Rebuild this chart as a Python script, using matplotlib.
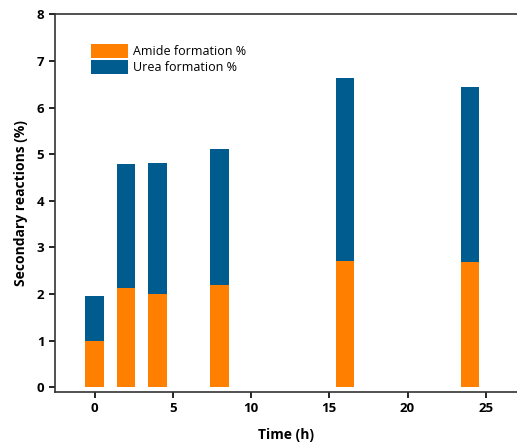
import matplotlib.pyplot as plt

# data
time_h = [0, 2, 4, 8, 16, 24]
amide = [1.0, 2.13, 2.0, 2.19, 2.71, 2.68]
total = [1.95, 4.78, 4.81, 5.12, 6.63, 6.45]
urea = [t - a for t, a in zip(total, amide)]

ORANGE = "#FF8000"
BLUE = "#005B8F"

plt.rcParams["font.family"] = ["Open Sans", "DejaVu Sans"]

fig = plt.figure(figsize=(5.17, 4.45), dpi=100)
ax = fig.add_axes([0.106, 0.119, 0.894, 0.849])

ax.bar(time_h, amide, width=1.2, color=ORANGE, label="Amide formation %")
ax.bar(time_h, urea, width=1.2, bottom=amide, color=BLUE, label="Urea formation %")

ax.set_xlim(-2.55, 27.0)
ax.set_ylim(-0.1, 8)
ax.set_xticks([0, 5, 10, 15, 20, 25])
ax.set_yticks(range(0, 9))
ax.tick_params(direction="out", length=4, width=1.2, labelsize=9.5)
for lab in ax.get_xticklabels() + ax.get_yticklabels():
    lab.set_fontweight("bold")

ax.spines["right"].set_visible(False)
for s in ["left", "bottom", "top"]:
    ax.spines[s].set_linewidth(1.2)
    ax.spines[s].set_color("#333333")

ax.set_ylabel("Secondary reactions (%)", fontsize=10, fontweight="bold", labelpad=6)
ax.set_xlabel("Time (h)", fontsize=10, fontweight="bold", labelpad=9)

ax.legend(loc="upper left", bbox_to_anchor=(0.055, 0.95), frameon=False,
          fontsize=9, handlelength=2.9, handleheight=1.3, labelspacing=0.15,
          handletextpad=0.4)

fig.savefig("out.png", dpi=100)
